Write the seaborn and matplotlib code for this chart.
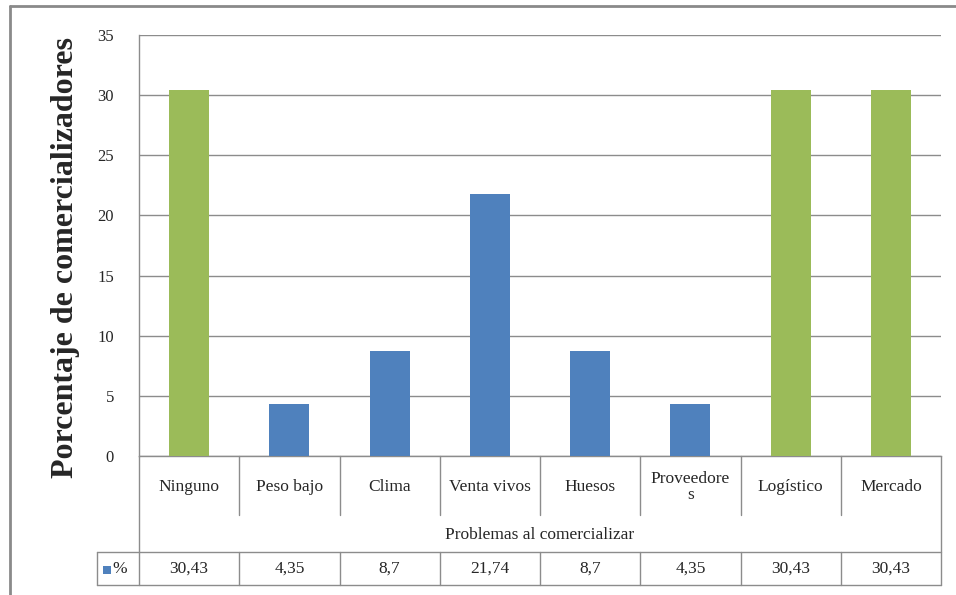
import matplotlib
matplotlib.use("Agg")
import matplotlib.pyplot as plt
from matplotlib.lines import Line2D
from matplotlib.patches import Rectangle
import matplotlib.transforms as mtransforms
import seaborn as sns
import pandas as pd

categories = ["Ninguno", "Peso bajo", "Clima", "Venta vivos", "Huesos",
              "Proveedores", "Logístico", "Mercado"]
category_labels = ["Ninguno", "Peso bajo", "Clima", "Venta vivos", "Huesos",
                   "Proveedore\ns", "Logístico", "Mercado"]
values = [30.43, 4.35, 8.7, 21.74, 8.7, 4.35, 30.43, 30.43]
value_labels = ["30,43", "4,35", "8,7", "21,74", "8,7", "4,35", "30,43", "30,43"]
groups = ["verde", "azul", "azul", "azul", "azul", "azul", "verde", "verde"]
y_ticks = [0, 5, 10, 15, 20, 25, 30, 35]

BLUE = "#4F81BD"
GREEN = "#9BBB59"
GRID = "#8c8c8c"
FS = 12.5

sns.set_theme(style="white")
plt.rcParams["font.family"] = ["Liberation Serif", "DejaVu Serif"]

df = pd.DataFrame({"cat": categories, "val": values, "grp": groups})

fig = plt.figure(figsize=(9.56, 5.95), dpi=100)
ax = fig.add_axes([139 / 956, 1 - 456 / 595, (941 - 139) / 956, (456 - 35) / 595])

sns.barplot(data=df, x="cat", y="val", hue="grp", order=categories,
            palette={"azul": BLUE, "verde": GREEN}, dodge=False, saturation=1,
            width=0.4, legend=False, ax=ax, zorder=3, linewidth=0)

ax.set_xlim(-0.5, len(categories) - 0.5)
ax.set_ylim(0, 35)
ax.set_yticks(y_ticks)
ax.set_yticklabels([str(t) for t in y_ticks], fontsize=12)
ax.tick_params(axis="y", length=0, pad=18)
ax.set_xticks([])
ax.set_xlabel("")
ax.set_ylabel("")
ax.yaxis.grid(True, color=GRID, linewidth=1.0)
ax.set_axisbelow(True)
for side in ["top", "right"]:
    ax.spines[side].set_visible(False)
for side in ["left", "bottom"]:
    ax.spines[side].set_color(GRID)
    ax.spines[side].set_linewidth(1.0)

# data table beneath the plot area
trans = mtransforms.blended_transform_factory(ax.transData, ax.transAxes)
h_px = 456 - 35
def yfrac(py):
    return (456 - py) / h_px

y_row1 = yfrac(515)
y_row2_top = yfrac(552)
y_row2_bot = yfrac(585)
x_left_cell = -0.5 - 42 / 100.25
n = len(categories)

def seg(x0, x1, y0, y1):
    ax.add_line(Line2D([x0, x1], [y0, y1], transform=trans, color=GRID,
                       linewidth=1.0, clip_on=False))

seg(-0.5, -0.5, 0, y_row2_bot)
seg(n - 0.5, n - 0.5, 0, y_row2_bot)
for i in range(1, n):
    seg(i - 0.5, i - 0.5, 0, y_row1)
    seg(i - 0.5, i - 0.5, y_row2_top, y_row2_bot)
seg(x_left_cell, n - 0.5, y_row2_top, y_row2_top)
seg(x_left_cell, n - 0.5, y_row2_bot, y_row2_bot)
seg(x_left_cell, x_left_cell, y_row2_top, y_row2_bot)

for i, lab in enumerate(category_labels):
    ax.text(i, yfrac(487), lab, transform=trans, ha="center", va="center",
            fontsize=FS, linespacing=1.05)
ax.text((n - 1) / 2, yfrac(535), "Problemas al comercializar", transform=trans,
        ha="center", va="center", fontsize=FS)
for i, lab in enumerate(value_labels):
    ax.text(i, yfrac(569), lab, transform=trans, ha="center", va="center",
            fontsize=FS)

# legend key in the table's row header
fig.patches.append(Rectangle((103 / 956, 1 - 574 / 595), 8 / 956, 8 / 595,
                             transform=fig.transFigure, facecolor=BLUE,
                             edgecolor="none"))
fig.text(112 / 956, 1 - 569 / 595, "%", ha="left", va="center", fontsize=FS)

fig.text(66 / 956, 1 - 257 / 595, "Porcentaje de comercializadores",
         rotation=90, ha="center", va="center", fontsize=23, fontweight="bold")

# outer chart frame
fig.add_artist(Line2D([10 / 956, 1.0], [1 - 6 / 595, 1 - 6 / 595],
                      transform=fig.transFigure, color="#8a8a8a", linewidth=2))
fig.add_artist(Line2D([10 / 956, 10 / 956], [0, 1 - 6 / 595],
                      transform=fig.transFigure, color="#8a8a8a", linewidth=2))

fig.savefig("out.png", dpi=100, facecolor="white")
